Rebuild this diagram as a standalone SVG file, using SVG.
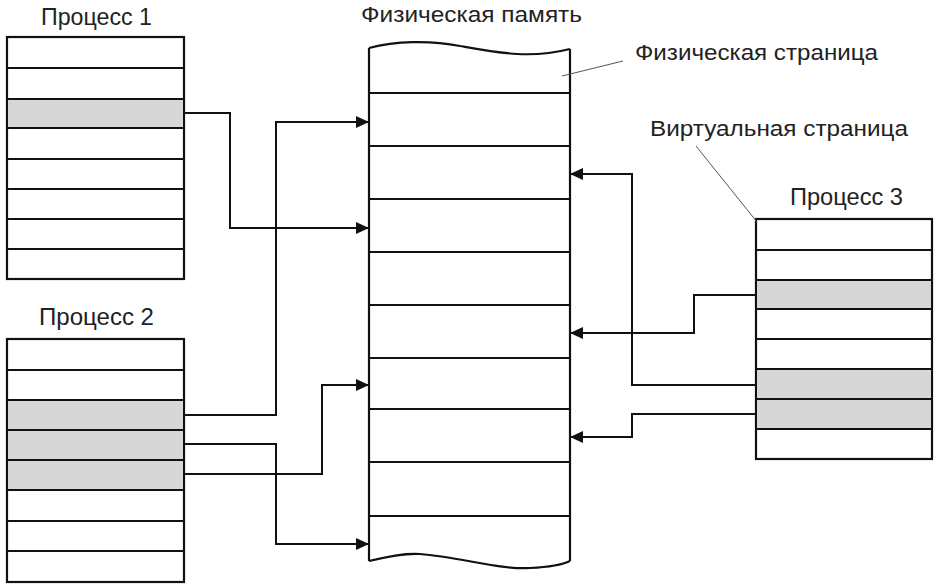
<svg xmlns="http://www.w3.org/2000/svg" width="940" height="586" viewBox="0 0 940 586">
<defs>
<style>
.bg{fill:#ffffff}
.box{fill:#ffffff;stroke:#111;stroke-width:2.2}
.sh{fill:#d7d7d7;stroke:none}
.ln{stroke:#111;stroke-width:2.2;fill:none}
.con{stroke:#111;stroke-width:2;fill:none;marker-end:url(#arr)}
.lead{stroke:#555;stroke-width:1;fill:none}
.t{font-family:"Liberation Sans",Arial,sans-serif;fill:#222}
</style>
<marker id="arr" markerUnits="userSpaceOnUse" markerWidth="14" markerHeight="12" refX="13" refY="6" orient="auto">
<path d="M0,0 L13,6 L0,12 z" fill="#111"/>
</marker>
</defs>
<rect class="bg" x="0" y="0" width="940" height="586"/>

<g id="process1">
<rect class="box" x="7" y="37" width="177" height="242"/>
<rect class="sh" x="8" y="99" width="175" height="29"/>
<path class="ln" d="M7,68H184M7,99H184M7,128H184M7,159H184M7,189H184M7,219H184M7,249H184"/>
<text class="t" x="41" y="25" font-size="24" textLength="111" lengthAdjust="spacingAndGlyphs">Процесс 1</text>
</g>

<g id="process2">
<rect class="box" x="7" y="339" width="177" height="243"/>
<rect class="sh" x="8" y="400" width="175" height="90"/>
<path class="ln" d="M7,370H184M7,400H184M7,430H184M7,460H184M7,490H184M7,521H184M7,551H184"/>
<text class="t" x="39" y="325" font-size="24" textLength="115" lengthAdjust="spacingAndGlyphs">Процесс 2</text>
</g>

<g id="process3">
<rect class="box" x="756" y="219" width="176" height="240"/>
<rect class="sh" x="757" y="280" width="174" height="29"/>
<rect class="sh" x="757" y="369" width="174" height="60"/>
<path class="ln" d="M756,250H932M756,280H932M756,309H932M756,339H932M756,369H932M756,399H932M756,429H932"/>
<text class="t" x="790" y="205" font-size="24" textLength="113" lengthAdjust="spacingAndGlyphs">Процесс 3</text>
</g>

<g id="memory">
<path class="ln" d="M369,48 C395,41 430,40 460,46 C500,53 530,59 570,49"/>
<path class="ln" d="M369,561 C390,556 405,553 420,554 C460,557 500,570 530,568 C550,567 562,565 570,561"/>
<path class="ln" d="M369,48V561M570,49V561"/>
<path class="ln" d="M369,93H570M369,146H570M369,199H570M369,252H570M369,305H570M369,358H570M369,409H570M369,462H570M369,516H570"/>
<text class="t" x="361" y="22" font-size="22" textLength="221" lengthAdjust="spacingAndGlyphs">Физическая память</text>
</g>

<g id="label-phys-page">
<path class="lead" d="M562,76 L623,61"/>
<text class="t" x="635" y="60" font-size="22" textLength="243" lengthAdjust="spacingAndGlyphs">Физическая страница</text>
</g>

<g id="label-virt-page">
<path class="lead" d="M696,146 L757,222"/>
<text class="t" x="650" y="136" font-size="22" textLength="258" lengthAdjust="spacingAndGlyphs">Виртуальная страница</text>
</g>

<g id="connectors">
<path class="con" d="M184,113 H230 V228 H369"/>
<path class="con" d="M184,415 H276 V122 H369"/>
<path class="con" d="M184,444 H276 V544 H369"/>
<path class="con" d="M184,474 H322 V385 H369"/>
<path class="con" d="M756,295 H694 V333 H570"/>
<path class="con" d="M756,385 H632 V174 H570"/>
<path class="con" d="M756,414 H632 V437 H570"/>
</g>
</svg>
